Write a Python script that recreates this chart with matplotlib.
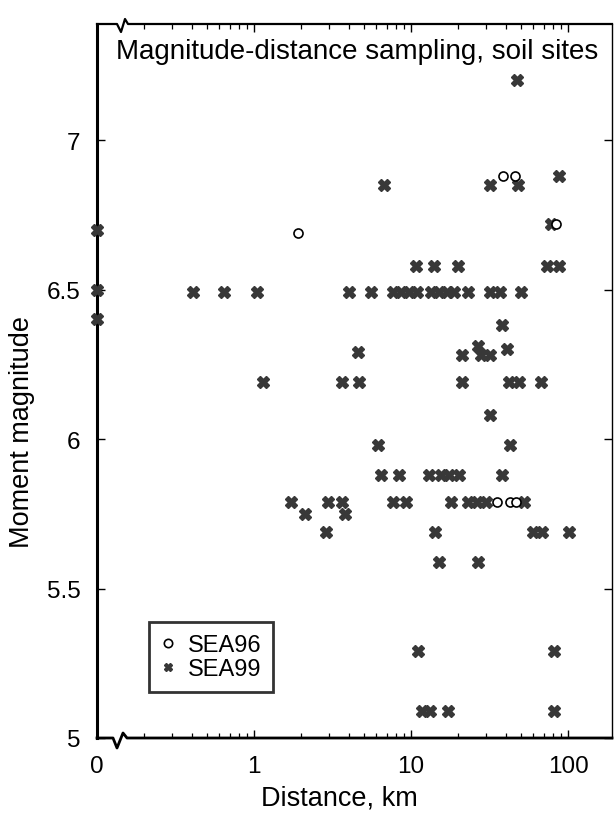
import matplotlib
matplotlib.use("Agg")
import matplotlib.pyplot as plt
import numpy as np

plt.rcParams['font.family'] = ['Liberation Sans', 'DejaVu Sans']

# distance 0 is drawn at the left edge of the log axis
zero_pos = 0.1

# SEA99 records (distance km, moment magnitude)
sea99_dist = [0, 0, 0,
              47,
              6.7, 32, 48, 88,
              78,
              10.7, 14, 20, 73.5, 88,
              0.41, 0.64, 1.04, 4.0, 5.6, 7.7, 8.6, 9.7, 10.9, 13.4, 15.1, 16.9, 18.8, 23, 32, 37, 50,
              38,
              4.6, 21, 26.7, 28, 32, 41,
              1.14, 3.65, 4.67, 21, 42, 49, 67,
              32,
              6.2, 43,
              6.4, 8.4, 13, 15.5, 17.4, 20.2, 38,
              1.72, 2.96, 3.64, 7.7, 9.3, 18, 23, 26.3, 30, 52.5,
              2.1, 3.8,
              2.87, 14.2, 60, 68, 101,
              15.1, 26.7,
              11.1, 81.5,
              11.8, 13.2, 17.2, 81.5]
sea99_mag = [6.7, 6.5, 6.4,
             7.2,
             6.85, 6.85, 6.85, 6.88,
             6.72,
             6.58, 6.58, 6.58, 6.58, 6.58,
             6.49, 6.49, 6.49, 6.49, 6.49, 6.49, 6.49, 6.49, 6.49, 6.49, 6.49, 6.49, 6.49, 6.49, 6.49, 6.49, 6.49,
             6.38,
             6.29, 6.28, 6.31, 6.28, 6.28, 6.30,
             6.19, 6.19, 6.19, 6.19, 6.19, 6.19, 6.19,
             6.08,
             5.98, 5.98,
             5.88, 5.88, 5.88, 5.88, 5.88, 5.88, 5.88,
             5.79, 5.79, 5.79, 5.79, 5.79, 5.79, 5.79, 5.79, 5.79, 5.79,
             5.75, 5.75,
             5.69, 5.69, 5.69, 5.69, 5.69,
             5.59, 5.59,
             5.29, 5.29,
             5.09, 5.09, 5.09, 5.09]

# SEA96 records
sea96_dist = [1.9, 38.5, 46, 84, 35.3, 42.5, 46.5]
sea96_mag = [6.69, 6.88, 6.88, 6.72, 5.79, 5.79, 5.79]

x_ticks = [0.1, 1, 10, 100]
x_ticklabels = ['0', '1', '10', '100']
y_ticks = [5, 5.5, 6, 6.5, 7]
y_ticklabels = ['5', '5.5', '6', '6.5', '7']

fig = plt.figure(figsize=(6.14, 8.20), dpi=100)
W, H = 614, 820
left_px, right_px, top_px, bot_px = 97, 612, 25, 739
ax = fig.add_axes([left_px / W, 1 - bot_px / H, (right_px - left_px) / W, (bot_px - top_px) / H])

px_per_dec = 157.0
x_max = zero_pos * 10 ** ((right_px - left_px) / px_per_dec)
ax.set_xscale('log')
ax.set_xlim(zero_pos, x_max)
y_max = 5 + (bot_px - top_px) / 299.0
ax.set_ylim(5, y_max)

d99 = np.array(sea99_dist, dtype=float)
d99[d99 == 0] = zero_pos
d96 = np.array(sea96_dist, dtype=float)
d96[d96 == 0] = zero_pos

ax.plot(d99, sea99_mag, linestyle='none', marker='X', ms=8, mfc='#383838',
        mec='#383838', mew=1.0, label='SEA99', clip_on=False, zorder=3)
ax.plot(d96, sea96_mag, linestyle='none', marker='o', ms=6.5, mfc='white',
        mec='black', mew=1.2, label='SEA96', clip_on=False, zorder=4)

# axes styling
ax.set_xticks(x_ticks)
ax.set_xticklabels(x_ticklabels)
ax.set_yticks(y_ticks)
ax.set_yticklabels(y_ticklabels)
ax.tick_params(which='major', direction='in', length=6, width=1, top=True, right=True,
               labelsize=17.5, pad=12)
ax.tick_params(which='minor', direction='in', length=3.5, width=0.9, top=True, right=True)
ax.tick_params(axis='y', which='minor', left=False, right=False)

ax.spines['left'].set_linewidth(2.2)
ax.spines['right'].set_linewidth(1.0)
ax.spines['top'].set_visible(False)
ax.spines['bottom'].set_visible(False)

# axis lines with break marks
aw = right_px - left_px
ah = bot_px - top_px
bx = [0, (113 - left_px) / aw, (117 - left_px) / aw, (123 - left_px) / aw, (127 - left_px) / aw, 1]
by = [0, 0, -10 / ah, 5 / ah, 0, 0]
ax.plot(bx, by, color='black', lw=2.0, transform=ax.transAxes, clip_on=False, zorder=5)
tx = [0, (117 - left_px) / aw, (121 - left_px) / aw, (125 - left_px) / aw, (128 - left_px) / aw, 1]
ty = [1, 1, 1 - 8 / ah, 1 + 5 / ah, 1, 1]
ax.plot(tx, ty, color='black', lw=1.6, transform=ax.transAxes, clip_on=False, zorder=5)

ax.set_xlabel('Distance, km', fontsize=19.5)
ax.xaxis.set_label_coords((339 - left_px) / aw, -47 / ah)
ax.set_ylabel('Moment magnitude', fontsize=19.5)
ax.yaxis.set_label_coords(-62 / aw, (bot_px - 432) / ah)

ax.text((357 - left_px) / aw, (bot_px - 52) / ah, 'Magnitude-distance sampling, soil sites',
        transform=ax.transAxes, ha='center', va='center', fontsize=20)

handles, labels = ax.get_legend_handles_labels()
leg = ax.legend(handles[::-1], labels[::-1], loc='upper left',
                bbox_to_anchor=((149 - left_px) / aw, (bot_px - 623) / ah),
                fontsize=17, frameon=True, fancybox=False, handlelength=0.6,
                handletextpad=0.55, borderpad=0.5, labelspacing=0.1, borderaxespad=0)
leg.get_frame().set_edgecolor('black')
leg.get_frame().set_linewidth(2.0)
for h in leg.legend_handles:
    h.set_markersize(6)

fig.savefig('out.png', dpi=100)
